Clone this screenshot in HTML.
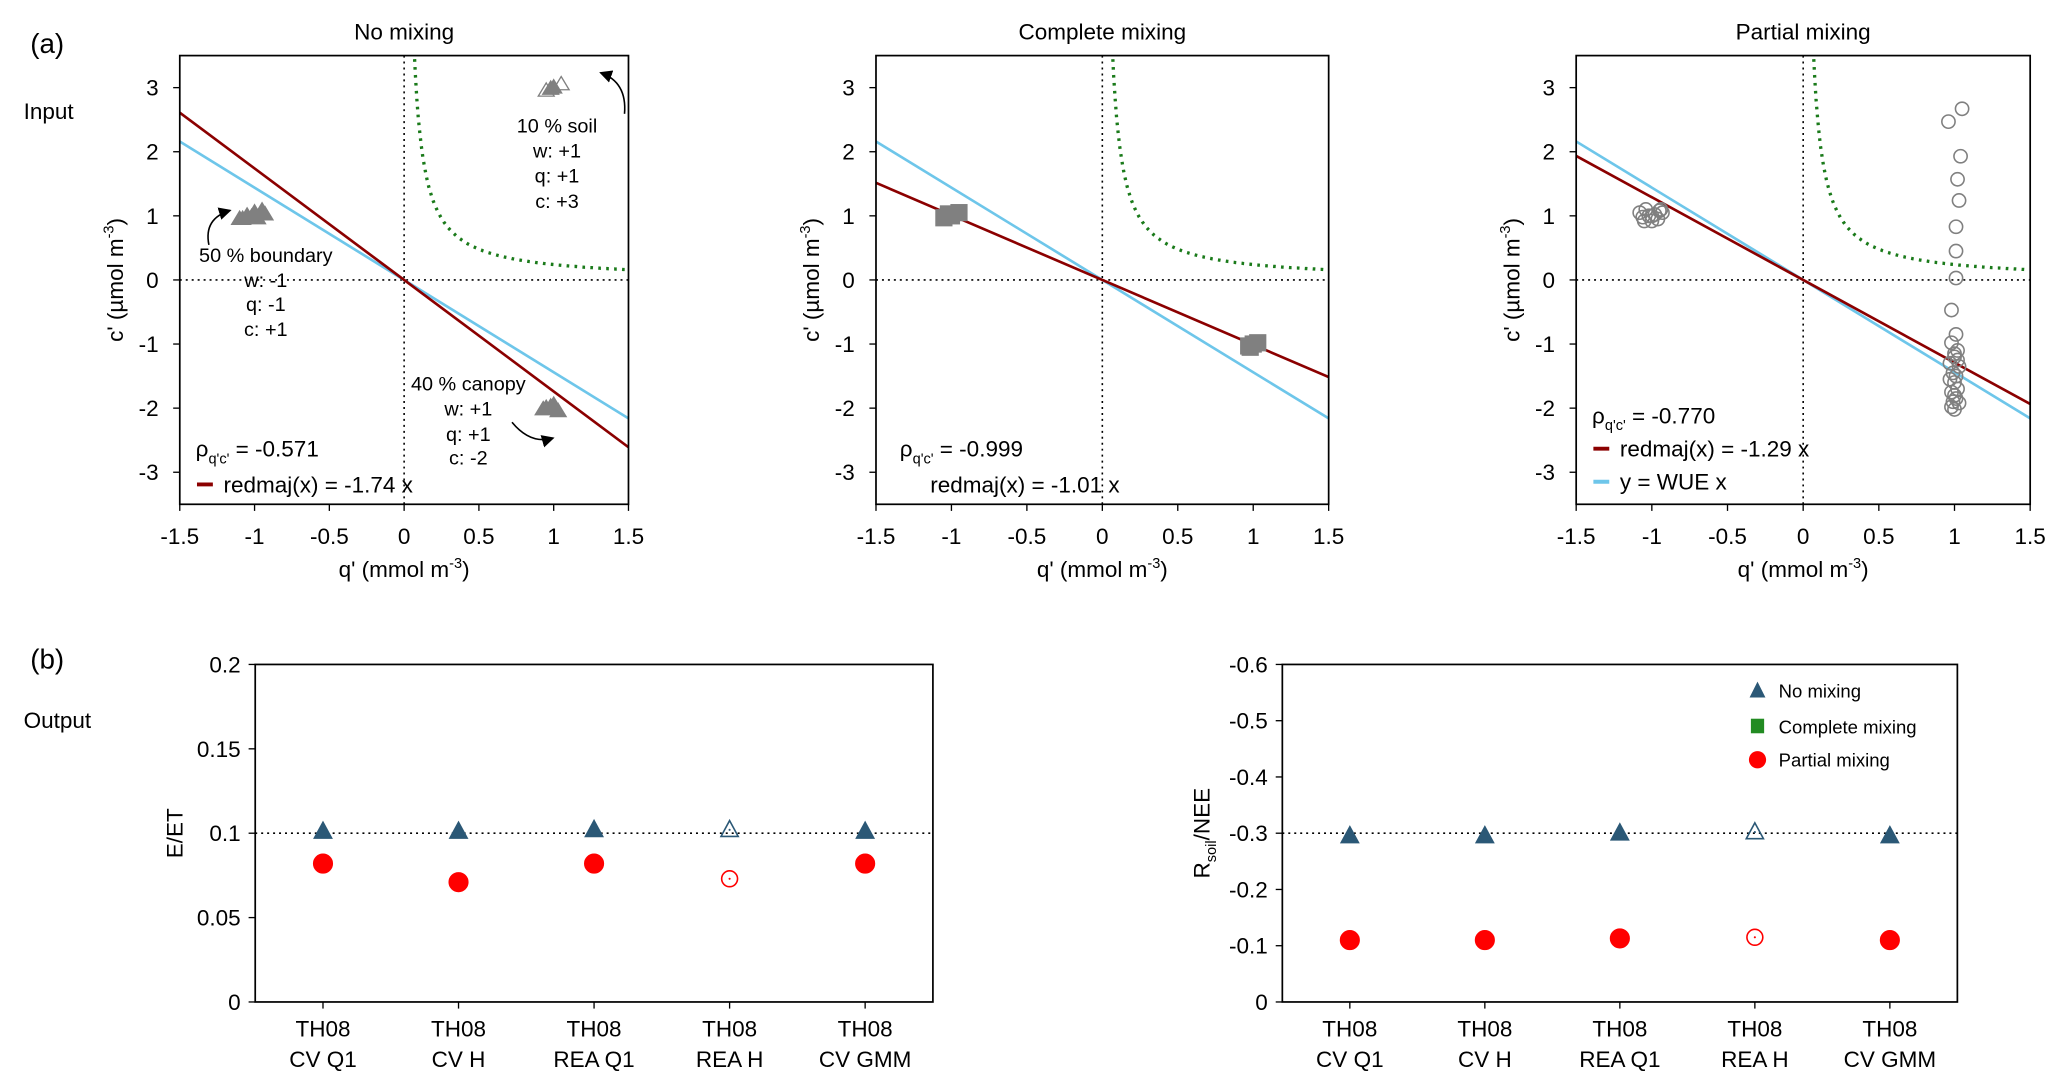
<!DOCTYPE html>
<html><head><meta charset="utf-8"><style>
html,body{margin:0;padding:0;background:#fff;}
svg{display:block;font-family:"Liberation Sans",Arial,sans-serif;}
</style></head><body>
<svg id="fig" width="2067" height="1088" viewBox="0 0 1560 822" xmlns="http://www.w3.org/2000/svg">
<rect width="1560" height="822" fill="#fff"/>
<text x="22" y="40" font-size="21">(a)</text>
<text x="17" y="90" font-size="17">Input</text>
<text x="22" y="505" font-size="21">(b)</text>
<text x="17" y="550" font-size="17">Output</text>
<defs>
<marker id="arr" markerWidth="8" markerHeight="8" refX="7" refY="4" orient="auto"><path d="M0,0 L8,4 L0,8 z" fill="#000"/></marker>
</defs>
<g id="root"></g>
</svg>
<script>
// ---- Data: top panels ----
const panelTitles = ["No mixing", "Complete mixing", "Partial mixing"];
const xTicks = [-1.5, -1, -0.5, 0, 0.5, 1, 1.5];
const xTickLabels = ["-1.5", "-1", "-0.5", "0", "0.5", "1", "1.5"];
const yTicks = [-3, -2, -1, 0, 1, 2, 3];
const redmajSlopes = [-1.74, -1.01, -1.29];
const wueSlope = -1.44;
const rhoValues = ["-0.571", "-0.999", "-0.770"];
const hyperK = 0.24;
const noMixQ = [-1.08,-1.05,-1.0,-0.95,-1.02,-0.98,-1.1,-0.93, 0.95,1.0,1.03,0.98,0.93, 0.95,1.0,1.05,0.98];
const noMixC = [0.95,1.0,1.05,1.08,0.98,0.96,0.95,1.02, -2.0,-1.95,-2.05,-1.98,-2.02, 2.95,3.0,3.05,2.98];
const compQ = [-1.05,-1.0,-0.95,-1.02, 0.98,1.0,1.03,0.97];
const compC = [0.97,1.0,1.05,1.03, -1.05,-1.0,-0.98,-1.03];
const partQ = [-1.08,-1.04,-1.0,-0.96,-0.93,-1.05,-1.0,-0.95,-1.02,-0.98,-1.06,-0.94, 0.96,1.05,1.04,1.02,1.03,1.01,1.01,1.01,0.98,1.01,
  0.98,1.02,1.0,0.97,1.03,0.99,1.01,0.97,1.0,1.02,0.98,1.0,1.01,0.99,1.03,0.98,1.0,1.02,1.0];
const partC = [1.05,1.1,1.0,0.95,1.05,0.92,0.92,1.08,1.0,1.02,0.98,1.1, 2.47,2.67,1.93,1.57,1.24,0.83,0.45,0.03,-0.47,-0.85,
  -0.98,-1.1,-1.2,-1.3,-1.35,-1.45,-1.5,-1.55,-1.6,-1.7,-1.75,-1.8,-1.85,-1.9,-1.92,-1.98,-2.02,-1.25,-1.15];
// ---- Data: bottom panels ----
const categories = [["TH08","CV Q1"],["TH08","CV H"],["TH08","REA Q1"],["TH08","REA H"],["TH08","CV GMM"]];
const openFlags = [false,false,false,true,false];
const etNoMix = [0.101,0.101,0.102,0.102,0.101];
const etPartial = [0.082,0.071,0.082,0.073,0.082];
const etTicks = [0,0.05,0.1,0.15,0.2];
const etTickLabels = ["0","0.05","0.1","0.15","0.2"];
const rsNoMix = [-0.295,-0.295,-0.300,-0.302,-0.295];
const rsPartial = [-0.110,-0.110,-0.113,-0.115,-0.110];
const rsTicks = [0,-0.1,-0.2,-0.3,-0.4,-0.5,-0.6];
const rsTickLabels = ["0","-0.1","-0.2","-0.3","-0.4","-0.5","-0.6"];

const NS="http://www.w3.org/2000/svg";
const root=document.getElementById('root');
function el(tag,attrs,parent,txt){const e=document.createElementNS(NS,tag);for(const k in attrs)e.setAttribute(k,attrs[k]);if(txt!==undefined)e.textContent=txt;(parent||root).appendChild(e);return e;}

const DARKRED="#8b0000", BLUE="#6ec6ea", NAVY="#2b5876";
const tops=[{L:135,R:474},{L:661,R:1003},{L:1190,R:1533}];
const T=42,B=381;
tops.forEach((p,i)=>{
  const g=el('g',{});
  
  
  const sx=v=>p.L+(v+1.5)/3*(p.R-p.L);
  const sy=v=>T+(3.5-v)/7*(B-T);
  const cx=(p.L+p.R)/2;
  const t=el('text',{x:cx,y:30,'font-size':17,'text-anchor':'middle'},g,panelTitles[i]);
  
  
  const cid='clip'+i;
  const cp=el('clipPath',{id:cid},g);el('rect',{x:p.L,y:T,width:p.R-p.L,height:B-T},cp);
  const inner=el('g',{'clip-path':'url(#'+cid+')'},g);
  el('line',{x1:p.L,x2:p.R,y1:sy(0),y2:sy(0),stroke:'#000','stroke-dasharray':'1.5,3','stroke-width':1.2},inner);
  el('line',{x1:sx(0),x2:sx(0),y1:T,y2:B,stroke:'#000','stroke-dasharray':'1.5,3','stroke-width':1.2},inner);
  let d='';for(let q=0.065;q<=1.5;q+=0.01){d+=(d?'L':'M')+sx(q).toFixed(1)+','+sy(hyperK/q).toFixed(1);}
  const hp=el('path',{d:d,fill:'none',stroke:'#1a7a1a','stroke-width':2.5,'stroke-dasharray':'2,4'},inner);
  
  
  const wl=el('line',{x1:sx(-1.5),y1:sy(wueSlope*-1.5),x2:sx(1.5),y2:sy(wueSlope*1.5),stroke:BLUE,'stroke-width':2},inner);
  
  
  const rl=el('line',{x1:sx(-1.5),y1:sy(redmajSlopes[i]*-1.5),x2:sx(1.5),y2:sy(redmajSlopes[i]*1.5),stroke:DARKRED,'stroke-width':2},inner);
  
  
  if(i===0){noMixQ.forEach((q,k)=>{const x=sx(q),y=sy(noMixC[k]);const open=k>=13&&k%2===1;
    const m=el('path',{d:`M${x},${y-6}L${x+6},${y+4}L${x-6},${y+4}Z`,fill:open?'none':'#808080',stroke:'#808080','stroke-width':1},inner);
    
    });}
  if(i===1){compQ.forEach((q,k)=>{const x=sx(q),y=sy(compC[k]);
    const m=el('rect',{x:x-6,y:y-6,width:12,height:12,fill:'#808080',stroke:'#808080'},inner);
    
    });}
  if(i===2){partQ.forEach((q,k)=>{const x=sx(q),y=sy(partC[k]);
    const m=el('circle',{cx:x,cy:y,r:5,fill:'none',stroke:'#808080','stroke-width':1.2},inner);
    
    });}
  el('rect',{x:p.L,y:T,width:p.R-p.L,height:B-T,fill:'none',stroke:'#000','stroke-width':1.3},g);
  xTicks.forEach((v,k)=>{el('line',{x1:sx(v),x2:sx(v),y1:B,y2:B+5,stroke:'#000'},g);
    el('text',{x:sx(v),y:B+30,'font-size':17,'text-anchor':'middle'},g,xTickLabels[k]);});
  yTicks.forEach(v=>{el('line',{x1:p.L-5,x2:p.L,y1:sy(v),y2:sy(v),stroke:'#000'},g);
    el('text',{x:p.L-16,y:sy(v)+6,'font-size':17,'text-anchor':'end'},g,String(v));});
  const xt=el('text',{x:cx,y:436,'font-size':17,'text-anchor':'middle'},g);
  xt.innerHTML="q' (mmol m<tspan dy='-7' font-size='11'>-3</tspan><tspan dy='7'>)</tspan>";
  
  
  const yt=el('text',{transform:`translate(${p.L-43},${(T+B)/2}) rotate(-90)`,'font-size':17,'text-anchor':'middle'},g);
  yt.innerHTML="c' (µmol m<tspan dy='-7' font-size='11'>-3</tspan><tspan dy='7'>)</tspan>";
  
  
  const rhoY=[345,345,320][i], rmY=[372,372,345][i];
  const rt=el('text',{x:p.L+12+(i===1?6:0),y:rhoY,'font-size':17},g);
  rt.innerHTML="ρ<tspan dy='5' font-size='11'>q'c'</tspan><tspan dy='-5'> = "+rhoValues[i]+"</tspan>";
  
  
  if(i!==1) el('line',{x1:p.L+13,x2:p.L+25,y1:rmY-6,y2:rmY-6,stroke:DARKRED,'stroke-width':3},g);
  const lt=el('text',{x:p.L+(i===1?41:33),y:rmY,'font-size':17},g,'redmaj(x) = '+redmajSlopes[i].toFixed(2)+' x');
  
  
  if(i===2){el('line',{x1:p.L+13,x2:p.L+25,y1:364,y2:364,stroke:BLUE,'stroke-width':3},g);
    const wt=el('text',{x:p.L+33,y:370,'font-size':17},g,'y = WUE x');
    
    }
  if(i===0){
    const ann=[[420,[["10 % soil",100],["w: +1",119],["q: +1",138],["c: +3",157]]],
               [200,[["50 % boundary",198],["w: -1",217],["q: -1",235],["c: +1",254]]],
               [353,[["40 % canopy",295],["w: +1",314],["q: +1",333],["c: -2",351]]]];
    ann.forEach(a=>a[1].forEach(s=>{const tx=el('text',{x:a[0],y:s[1],'font-size':15,'text-anchor':'middle'},g,s[0]);
      
      }));
    el('path',{d:'M471,86 Q473,62 453,55',fill:'none',stroke:'#000','stroke-width':1.2,'marker-end':'url(#arr)'},g);
    el('path',{d:'M157,185 Q153,165 173,159',fill:'none',stroke:'#000','stroke-width':1.2,'marker-end':'url(#arr)'},g);
    el('path',{d:'M386,319 Q400,336 417,331',fill:'none',stroke:'#000','stroke-width':1.2,'marker-end':'url(#arr)'},g);
  }
});

// ---- bottom panels ----
const bots=[{L:192,R:704,ticks:etTicks,labs:etTickLabels,min:0,max:0.2,nm:etNoMix,pm:etPartial,ref:0.1},
            {L:968,R:1478,ticks:rsTicks,labs:rsTickLabels,min:0,max:-0.6,nm:rsNoMix,pm:rsPartial,ref:-0.3}];
const BT=502,BB=757;
bots.forEach((p,i)=>{
  const g=el('g',{});
  
  
  const sy=v=>BB-(v-p.min)/(p.max-p.min)*(BB-BT);
  const w=(p.R-p.L)/5;
  const sx=k=>p.L+w*(k+0.5);
  el('line',{x1:p.L,x2:p.R,y1:sy(p.ref),y2:sy(p.ref),stroke:'#000','stroke-dasharray':'1.5,3','stroke-width':1.2},g);
  el('rect',{x:p.L,y:BT,width:p.R-p.L,height:BB-BT,fill:'none',stroke:'#000','stroke-width':1.3},g);
  p.ticks.forEach((v,k)=>{el('line',{x1:p.L-5,x2:p.L,y1:sy(v),y2:sy(v),stroke:'#000'},g);
    el('text',{x:p.L-11,y:sy(v)+6,'font-size':17,'text-anchor':'end'},g,p.labs[k]);});
  categories.forEach((c,k)=>{el('line',{x1:sx(k),x2:sx(k),y1:BB,y2:BB+5,stroke:'#000'},g);
    const a=el('text',{x:sx(k),y:783,'font-size':17,'text-anchor':'middle'},g,c[0]);
    
    
    el('text',{x:sx(k),y:806,'font-size':17,'text-anchor':'middle'},g,c[1]);
    const x=sx(k),y=sy(p.nm[k]),o=openFlags[k];
    const tri=el('path',{d:`M${x},${y-7}L${x+6.5},${y+5}L${x-6.5},${y+5}Z`,fill:o?'none':NAVY,stroke:NAVY,'stroke-width':1.2},g);
    
    
    const cy=sy(p.pm[k]);
    const ci=el('circle',{cx:x,cy:cy,r:o?6:7,fill:o?'none':'#f00',stroke:'#f00','stroke-width':1.2},g);
    
    
    if(o){el('circle',{cx:x,cy:cy,r:0.8,fill:'#f00'},g);el('circle',{cx:x,cy:y,r:0.8,fill:NAVY},g);}
  });
  const yt=el('text',{transform:`translate(${p.L-55},${(BT+BB)/2}) rotate(-90)`,'font-size':17,'text-anchor':'middle'},g);
  if(i===0) yt.textContent='E/ET'; else yt.innerHTML="R<tspan dy='5' font-size='11'>soil</tspan><tspan dy='-5'>/NEE</tspan>";
  
  
  if(i===1){
    const lg=el('g',{},g);
    
    
    el('path',{d:'M1327,515L1333,527L1321,527Z',fill:NAVY},lg);
    el('text',{x:1343,y:527,'font-size':14},lg,'No mixing');
    el('rect',{x:1322,y:543,width:10,height:11,fill:'#228b22'},lg);
    el('text',{x:1343,y:554,'font-size':14},lg,'Complete mixing');
    el('circle',{cx:1327,cy:574,r:6.5,fill:'#f00'},lg);
    el('text',{x:1343,y:579,'font-size':14},lg,'Partial mixing');
  }
});
</script>
</body></html>
